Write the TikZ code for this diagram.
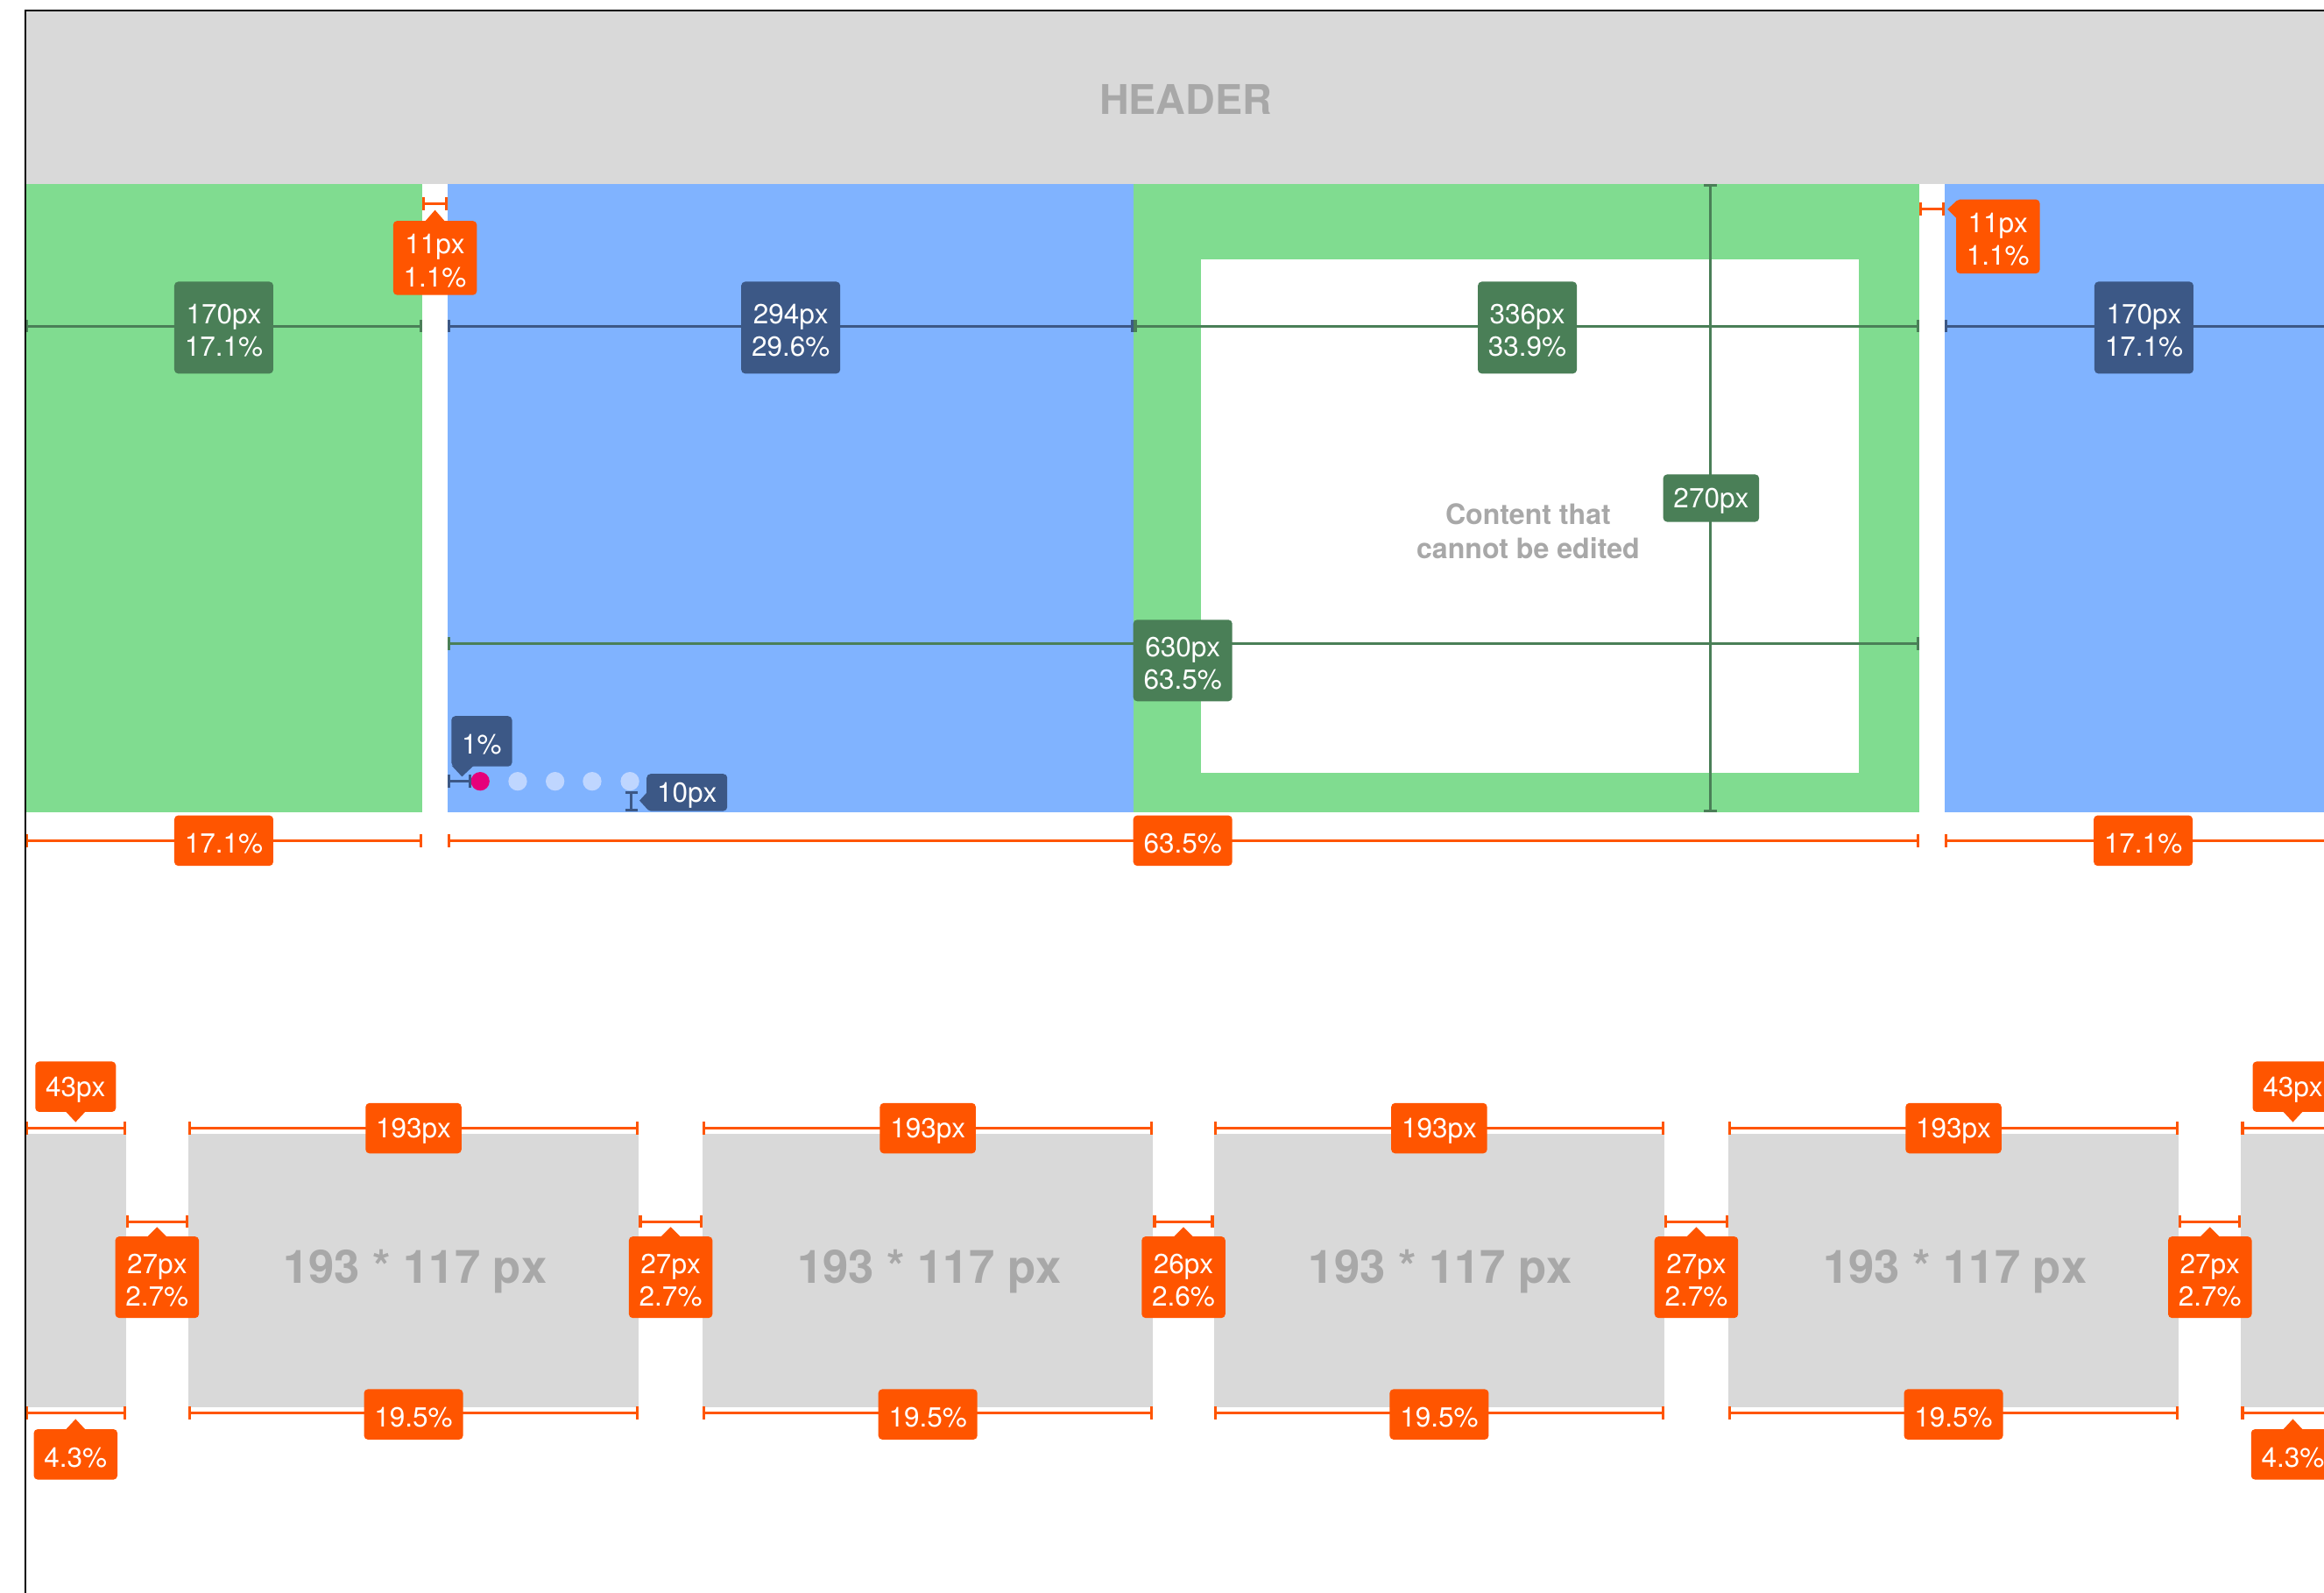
\documentclass[tikz,border=0pt]{standalone}
\usepackage{fontspec}
\setmainfont{TeX Gyre Heros}
\usetikzlibrary{calc,arrows.meta}

\definecolor{colgreen}{RGB}{128,220,144}
\definecolor{colblue}{RGB}{128,179,255}
\definecolor{dimgreen}{RGB}{74,127,87}
\definecolor{dimblue}{RGB}{60,88,134}
\definecolor{dimorange}{RGB}{255,85,0}
\definecolor{boxgray}{RGB}{217,217,217}
\definecolor{textgray}{RGB}{168,168,168}
\definecolor{dotpink}{RGB}{230,0,122}
\definecolor{dotblue}{RGB}{191,214,255}

\tikzset{
  dimline/.style={line width=1.1pt,{Bar[width=0.17cm]}-{Bar[width=0.17cm]}},
  dimtag/.style={fill=#1,text=white,rounded corners=1.5pt,align=center,inner xsep=0.14cm,inner ysep=0pt,
    minimum height=0.68cm,text height=9.8pt,font=\fontsize{10.6}{12.5}\selectfont},
  dimtagtwo/.style={dimtag=#1,minimum height=1.1cm,text height=22.2pt},
  graytext/.style={text=textgray,align=center}
}

\begin{document}
\begin{tikzpicture}[x=0.02cm,y=-0.02cm]
\useasboundingbox (0,0) rectangle (1568,1074);
\fill[white] (0,0) rectangle (1568,1074);
\clip (0,0) rectangle (1568,1074);
% header and columns
\fill[boxgray] (17,7) rectangle (1568,124);
\node[graytext,font=\bfseries\fontsize{15.7}{18}\selectfont] (header) at (800,67) {HEADER};
\fill[colgreen] (17,124) rectangle (285,548);
\fill[colblue] (302,124) rectangle (765,548);
\fill[colgreen] (765,124) rectangle (1295,548);
\fill[white] (810,175) rectangle (1254,521);
\fill[colblue] (1312,124) rectangle (1568,548);
\node[graytext,font=\bfseries\fontsize{10.8}{13}\selectfont] (locked) at (1031,358.5) {Content that\\cannot be edited};

% column widths
\draw[dimline,dimgreen] (17,220) -- (285,220);
\draw[dimline,dimblue] (302,220) -- (765,220);
\draw[dimline,dimgreen] (765,220) -- (1295,220);
\draw[dimline,dimblue] (1312,220) -- (1600,220);
\node[dimtagtwo=dimgreen,minimum height=1.24cm] (wa) at (151,221) {170px\\17.1\%};
\node[dimtagtwo=dimblue,minimum height=1.24cm] (wb) at (533.5,221) {294px\\29.6\%};
\node[dimtagtwo=dimgreen,minimum height=1.24cm] (wc) at (1030.5,221) {336px\\33.9\%};
\node[dimtagtwo=dimblue,minimum height=1.24cm] (wd) at (1446.5,221) {170px\\17.1\%};
\draw[dimline,dimgreen] (302,434) -- (1295,434);
\node[dimtagtwo=dimgreen] (wide) at (798,445.5) {630px\\63.5\%};
\draw[dimline,dimgreen] (1154,124) -- (1154,548);
\node[dimtag=dimgreen,minimum height=0.64cm] (high) at (1154.5,336) {270px};

% gutters
\draw[dimline,dimorange] (285,137.5) -- (302,137.5);
\node[dimtagtwo=dimorange,minimum height=1cm] (gapa) at (293.5,174) {11px\\1.1\%};
\fill[dimorange] ($(gapa.north)+(-7,1)$) -- ++(7,-8) -- ++(7,8) -- cycle;
\draw[dimline,dimorange] (1295,141) -- (1312,141);
\node[dimtagtwo=dimorange,minimum height=1cm] (gapb) at (1348,159.5) {11px\\1.1\%};
\fill[dimorange] ($(gapb.north west)+(1,1)$) -- ++(-6.5,6) -- ++(6.5,6.5) -- cycle;

\draw[dimline,dimorange] (17,567) -- (285,567);
\draw[dimline,dimorange] (302,567) -- (1295,567);
\draw[dimline,dimorange] (1312,567) -- (1600,567);
\node[dimtag=dimorange] (pa) at (151,567) {17.1\%};
\node[dimtag=dimorange] (pb) at (798,567) {63.5\%};
\node[dimtag=dimorange] (pc) at (1446,567) {17.1\%};

% slider dots
\fill[dotpink] (324,527) circle (6.3);
\foreach \x in {349.3,374.5,399.5,425}
  \fill[dotblue] (\x,527) circle (6.3);
\draw[dimline,dimblue] (302,527) -- (318,527);
\node[dimtag=dimblue] (ind) at (325,500) {1\%};
\fill[dimblue] ($(ind.south west)+(0.5,-1)$) -- ++(7,7.5) -- ++(8,-7.5) -- cycle;
\draw[dimline,dimblue] (426,533.5) -- (426,547.5);
\node[dimtag=dimblue,minimum height=0.5cm] (gapdot) at (463.5,534.5) {10px};
\fill[dimblue] ($(gapdot.west)+(1,-0.5)$) -- ++(-5.5,6) -- ++(5.5,6) -- cycle;

% thumbnails
\foreach \a/\b in {17/85,127/431,474/778,819/1123,1166/1470,1512/1600}
  \fill[boxgray] (\a,765) rectangle (\b,949);
\foreach \c [count=\i] in {280,627,972,1319}
  \node[graytext,font=\bfseries\fontsize{17.7}{20}\selectfont] (thumb\i) at (\c,857.5) {193 * 117 px};
\foreach \a/\b [count=\i] in {127/431,474/778,819/1123,1166/1470}{
  \draw[dimline,dimorange] (\a,761) -- (\b,761);
  \node[dimtag=dimorange] (top\i) at ($(\a,761)!0.5!(\b,761)$) {193px};
  \draw[dimline,dimorange] (\a,953) -- (\b,953);
  \node[dimtag=dimorange] (bot\i) at ($(\a,954)!0.5!(\b,954)$) {19.5\%};
}
\draw[dimline,dimorange] (17,761) -- (85,761);
\draw[dimline,dimorange] (1512,761) -- (1600,761);
\node[dimtag=dimorange] (topl) at (51,733) {43px};
\node[dimtag=dimorange] (topr) at (1547,733) {43px};
\draw[dimline,dimorange] (17,953) -- (85,953);
\draw[dimline,dimorange] (1512,953) -- (1600,953);
\node[dimtag=dimorange] (botl) at (51,981) {4.3\%};
\node[dimtag=dimorange] (botr) at (1547,981) {4.3\%};
\foreach \n in {topl,topr}
  \fill[dimorange] ($(\n.south)+(-7,-1)$) -- ++(7,7.5) -- ++(7,-7.5) -- cycle;
\foreach \n in {botl,botr}
  \fill[dimorange] ($(\n.north)+(-7,1)$) -- ++(7,-7.5) -- ++(7,7.5) -- cycle;
\foreach \a/\b/\w/\q [count=\i] in {85/127/27/2.7,431/474/27/2.7,778/819/26/2.6,1123/1166/27/2.7,1470/1512/27/2.7}{
  \draw[dimline,dimorange] (\a,824) -- (\b,824);
  \node[dimtagtwo=dimorange] (gap\i) at ($(\a,861.5)!0.5!(\b,861.5)$) {\w px\\\q\%};
  \fill[dimorange] ($(gap\i.north)+(-7,1)$) -- ++(7,-7) -- ++(7,7) -- cycle;
}

\draw[line width=0.85pt] (17,1080) -- (17,7) -- (1580,7);
\end{tikzpicture}
\end{document}
